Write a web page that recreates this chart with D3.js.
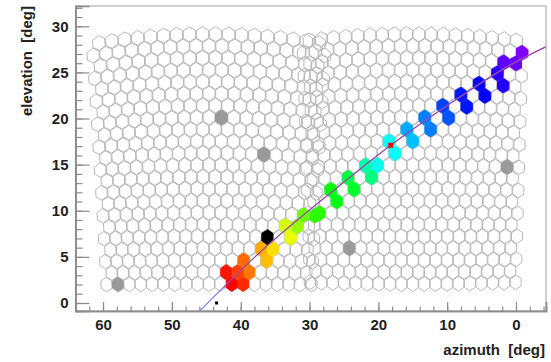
<!DOCTYPE html>
<html><head><meta charset="utf-8">
<script src="https://cdn.jsdelivr.net/npm/d3@7"></script>
<style>html,body{margin:0;padding:0;background:#fff}svg{display:block}</style>
</head><body>
<svg id="c" width="551" height="362"></svg>
<script>
// ---------- data ----------
const azTicks = [60, 50, 40, 30, 20, 10, 0];
const elTicks = [0, 5, 10, 15, 20, 25, 30];
const azDomain = [64.0, -4.36];
const elDomain = [-0.87, 32.2];

// two camera pointings (deg)
const cameraAz = [44.6, 15.0];
const cameraEl = [15.6, 15.6];
const cameraProjEl = [15.6, 8.0];   // effective elevation of the projection
const camRows = 22;          // rows per camera
const camColsEven = 19;      // pixels in even rows
const camColsOdd = 18;       // pixels in odd rows
const pixStepU = 1.70;       // deg between columns
const pixStepV = 1.29;       // deg between rows

// dead (gray) pixels: azimuth, elevation
const deadAz = [57.1, 41.9, 36.5, 24.6, 1.0];
const deadEl = [2.06, 20.3, 16.3, 6.07, 14.75];

// saturated (black) pixel
const blackAz = [36.0];
const blackEl = [7.27];

// hit pixels along the track: azimuth, elevation, arrival time (ns)
const hitAz = [42.0, 41.3, 40.4, 39.7, 39.0, 38.2, 36.8, 36.0, 35.3, 33.9, 33.1, 31.4, 31.0, 29.2, 28.2, 27.0, 26.3, 24.9, 23.8, 22.7, 21.7, 19.5, 17.9, 17.3, 15.7, 14.7, 13.2, 12.8, 10.6, 10.0, 8.4, 7.7, 5.7, 4.9, 3.3, 2.6, 0.9, -0.9, -1.7];
const hitEl = [2.17, 3.58, 2.17, 3.25, 4.66, 3.58, 5.97, 4.66, 5.97, 8.68, 7.27, 9.76, 8.78, 10.1, 9.76, 12.0, 11.2, 13.7, 12.6, 15.2, 14.1, 15.2, 17.9, 16.6, 19.1, 18.2, 20.4, 19.1, 21.7, 20.4, 23.1, 21.7, 24.2, 22.8, 25.3, 24.0, 26.4, 26.0, 27.2];
const hitTime = [0.0, 0.5, 1.0, 1.5, 2.5, 2.8, 4.0, 4.5, 5.2, 7.0, 6.5, 9.5, 8.5, 11.0, 11.0, 12.0, 12.5, 13.5, 13.0, 16.0, 15.0, 17.5, 18.0, 17.8, 20.0, 19.5, 21.0, 21.0, 22.5, 22.0, 23.5, 23.5, 24.0, 24.0, 25.0, 24.8, 26.2, 26.5, 27.0];
const timeRange = [0, 27];

// fitted shower axis
const fitAz = [46.0, 36.0, 26.0, 18.2, 10.0, 2.0, -4.4];
const fitEl = [-0.9, 6.3, 12.5, 17.1, 21.4, 25.3, 27.8];
const trackAz = [42.5, 36.0, 26.0, 18.2, 10.0, 2.0, -4.4];
const trackEl = [1.6, 6.3, 12.5, 17.1, 21.4, 25.3, 27.8];

// markers
const centroidAz = [18.2], centroidEl = [17.1];
const coreAz = [43.5], coreEl = [0.0];

// ---------- drawing ----------
const W = 551, H = 362;
const m = {l: 75.5, r: 5, t: 6, b: 51};
const svg = d3.select("#c");
const x = d3.scaleLinear().domain(azDomain).range([m.l, W - m.r]);
const y = d3.scaleLinear().domain(elDomain).range([H - m.b, m.t]);

const rad = Math.PI / 180;
function project(ci, u, v) {
  const tu = Math.tan(u * rad), tv = Math.tan(v * rad);
  const n = Math.sqrt(1 + tu * tu + tv * tv);
  const px = 1 / n, py = tu / n, pz = tv / n;
  const pe = cameraProjEl[ci];
  const ce = Math.cos(pe * rad), se = Math.sin(pe * rad);
  const x2 = px * ce - pz * se, z2 = px * se + pz * ce;
  return [cameraAz[ci] + Math.atan2(py, x2) / rad, Math.asin(z2) / rad + (cameraEl[ci] - pe)];
}

const Rv = pixStepV * 2 / 3;
const shrink = 0.95;
const cells = [];
cameraAz.forEach((_, ci) => {
  for (let r = 0; r < camRows; r++) {
    const vc = (r - (camRows - 1) / 2) * pixStepV;
    const n = r % 2 === 0 ? camColsEven : camColsOdd;
    for (let c = 0; c < n; c++) {
      const uc = (c - (n - 1) / 2) * pixStepU;
      const hu = pixStepU / 2 * shrink, hv = Rv * shrink;
      const verts = [[0, hv], [hu, hv / 2], [hu, -hv / 2], [0, -hv], [-hu, -hv / 2], [-hu, hv / 2]]
        .map(([du, dv]) => project(ci, uc + du, vc + dv));
      const ctr = project(ci, uc, vc);
      cells.push({ci, verts, ctr, fill: null});
    }
  }
});

// nearest still-empty cell (in screen distance)
function nearestFree(az, el) {
  let best = null, bd = Infinity;
  const px = x(az), py = y(el);
  cells.forEach(c => {
    if (c.fill) return;
    const d = (x(c.ctr[0]) - px) ** 2 + (y(c.ctr[1]) - py) ** 2;
    if (d < bd) { bd = d; best = c; }
  });
  return best;
}
const color = t => d3.hsl(t / timeRange[1] * 270, 1, 0.5).toString();
blackAz.forEach((a, i) => { nearestFree(a, blackEl[i]).fill = "#000"; });
deadAz.forEach((a, i) => { nearestFree(a, deadEl[i]).fill = "#9a9a9a"; });
hitAz.forEach((a, i) => { nearestFree(a, hitEl[i]).fill = color(hitTime[i]); });

svg.append("defs").append("clipPath").attr("id", "clip")
  .append("rect").attr("x", m.l).attr("y", m.t).attr("width", W - m.l - m.r).attr("height", H - m.t - m.b);

const g = svg.append("g").attr("clip-path", "url(#clip)");
const hexLine = d3.line().x(d => x(d[0])).y(d => y(d[1]));
g.selectAll("path.empty").data(cells.filter(c => !c.fill)).join("path")
  .attr("d", c => hexLine(c.verts) + "Z")
  .attr("fill", "none").attr("stroke", "#b8b8b8").attr("stroke-width", 1);
g.selectAll("path.full").data(cells.filter(c => c.fill)).join("path")
  .attr("d", c => hexLine(c.verts) + "Z")
  .attr("fill", c => c.fill).attr("stroke", c => c.fill).attr("stroke-width", 1);

const curve = d3.line().x(d => x(d[0])).y(d => y(d[1])).curve(d3.curveNatural);
g.append("path").attr("d", curve(fitAz.map((a, i) => [a, fitEl[i]])))
  .attr("fill", "none").attr("stroke", "#7a7aff").attr("stroke-width", 1.2);
g.append("path").attr("d", curve(trackAz.map((a, i) => [a, trackEl[i]])))
  .attr("fill", "none").attr("stroke", "#c0184a").attr("stroke-width", 1).attr("opacity", 0.75);

g.selectAll("rect.cen").data(centroidAz).join("rect")
  .attr("x", (d) => x(d) - 2.5).attr("y", (d, i) => y(centroidEl[i]) - 2.5)
  .attr("width", 5).attr("height", 5).attr("fill", "#ff0000");
g.selectAll("rect.core").data(coreAz).join("rect")
  .attr("x", (d) => x(d) - 1.5).attr("y", (d, i) => y(coreEl[i]) - 1.5)
  .attr("width", 3).attr("height", 3).attr("fill", "#000");

// frame
svg.append("rect").attr("x", m.l).attr("y", m.t).attr("width", W - m.l - m.r).attr("height", H - m.t - m.b)
  .attr("fill", "none").attr("stroke", "#a0a0a0").attr("stroke-width", 1);

// axes
const font = "'Liberation Sans', Arial, sans-serif";
const xAxis = d3.axisBottom(x).tickValues(azTicks).tickSize(-9).tickFormat(d3.format("d")).tickPadding(8);
const xMinor = d3.axisBottom(x).tickValues(d3.range(-4, 65, 2)).tickSize(-4.5).tickFormat("");
const yAxis = d3.axisLeft(y).tickValues(elTicks).tickSize(-14).tickFormat(d3.format("d")).tickPadding(7);
const yMinor = d3.axisLeft(y).tickValues(d3.range(0, 33, 1)).tickSize(-7).tickFormat("");

function style(sel) {
  sel.select(".domain").attr("stroke", "#8c8c8c").attr("stroke-width", 1.6);
  sel.selectAll(".tick line").attr("stroke", "#8c8c8c").attr("stroke-width", 1.2);
  sel.selectAll(".tick text").attr("fill", "#222").style("font-family", font)
    .style("font-weight", "bold").style("font-size", "15px");
}
svg.append("g").attr("transform", `translate(0,${H - m.b})`).call(xMinor).call(style);
svg.append("g").attr("transform", `translate(0,${H - m.b})`).call(xAxis).call(style);
svg.append("g").attr("transform", `translate(${m.l},0)`).call(yMinor).call(style);
svg.append("g").attr("transform", `translate(${m.l},0)`).call(yAxis).call(style);

svg.append("text").attr("x", 545).attr("y", 355).attr("text-anchor", "end")
  .style("font-family", font).style("font-weight", "bold").style("font-size", "15px").attr("fill", "#222")
  .attr("xml:space", "preserve").text("azimuth  [deg]");
svg.append("text").attr("transform", "translate(32,6) rotate(-90)").attr("text-anchor", "end")
  .style("font-family", font).style("font-weight", "bold").style("font-size", "15px").attr("fill", "#222")
  .attr("xml:space", "preserve").text("elevation  [deg]");
</script>
</body></html>
